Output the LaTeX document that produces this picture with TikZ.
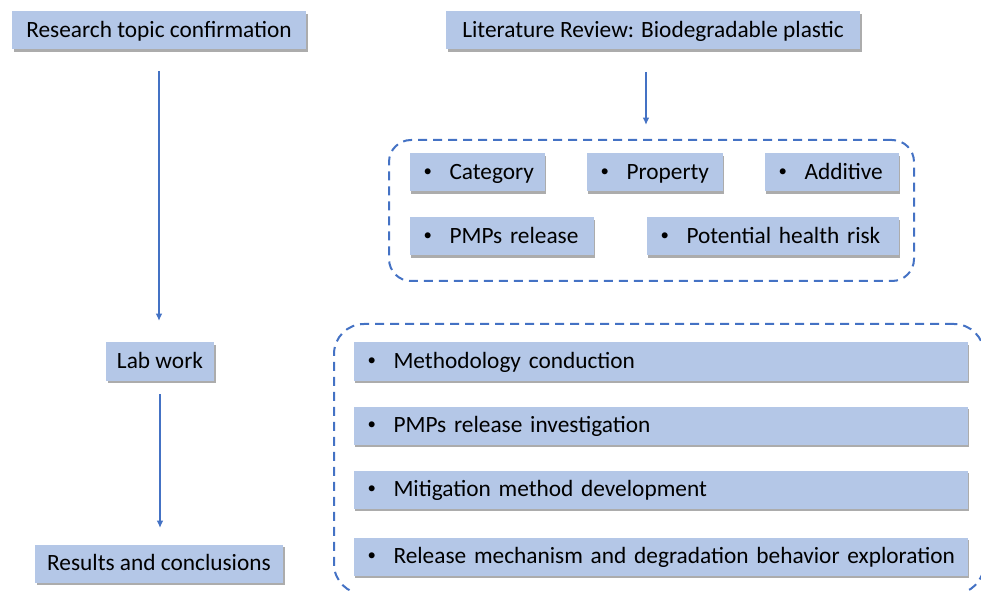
\documentclass[tikz,border=0pt]{standalone}
\usepackage{fontspec}
\setmainfont{Carlito}
\usetikzlibrary{shadows,arrows.meta}
\definecolor{boxfill}{RGB}{180,199,231}
\definecolor{lineblue}{RGB}{68,114,196}
\tikzset{every picture/.style={line width=0.75pt}}
\tikzset{
stagebox/.style={fill=boxfill, draw=none, minimum height=28.5pt, inner xsep=8pt,
  text height=13.5pt, text depth=3pt,
  font=\fontsize{17.5}{21}\selectfont,
  drop shadow={shadow xshift=1.2pt, shadow yshift=-1.8pt, opacity=0.5, fill=black!65}},
itembox/.style={stagebox, anchor=north west, align=left, text width=#1, inner xsep=10.5pt},
groupframe/.style={draw=lineblue, line width=1.5pt, dash pattern=on 6.75pt off 4.5pt,
  rounded corners=#1, anchor=north west, inner sep=0pt, text height=, text depth=},
flow/.style={draw=lineblue, line width=1.5pt, -{Latex[length=5.5pt,width=5pt]}}
}
\newcommand{\itm}[1]{\mbox{\makebox[19.5pt][l]{\raisebox{0.14em}{\scalebox{0.72}{\textbullet}}}#1}}

\begin{document}
\begin{tikzpicture}[x=0.75pt,y=0.75pt,yscale=-1,xscale=1]
\useasboundingbox (0,0) rectangle (981,591);
\clip (0,0) rectangle (981,591);

% Left column
\node[stagebox, minimum width=220.5pt] (research) at (159,30.5) {Research topic confirmation};
\node[stagebox, minimum width=81pt] (labwork) at (160,361.5) {Lab work};
\node[stagebox, minimum width=186pt] (results) at (159,563.5) {Results and conclusions};

% Literature review
\node[stagebox, minimum width=310.5pt] (litrev) at (653,30.5) {Literature Review: Biodegradable plastic};
\node[groupframe=16.5pt, minimum width=393.75pt, minimum height=105.75pt] (litgroup) at (388,139) {};
\node[itembox=80.25pt] (category) at (409,153) {\itm{Category}};
\node[itembox=81pt] (property) at (586,153) {\itm{Property}};
\node[itembox=79.5pt] (additive) at (764,153) {\itm{Additive}};
\node[itembox=117pt] (release) at (409,217) {\itm{PMPs release}};
\node[itembox=168pt] (healthrisk) at (646,217) {\itm{Potential health risk}};

% Lab work items
\node[groupframe=22.5pt, minimum width=487.5pt, minimum height=202.5pt] (labgroup) at (333,323) {};
\node[itembox=439.5pt] (method) at (353,342) {\itm{Methodology conduction}};
\node[itembox=439.5pt] (investig) at (353,406) {\itm{PMPs release investigation}};
\node[itembox=439.5pt] (mitig) at (353,470) {\itm{Mitigation method development}};
\node[itembox=439.5pt] (mechan) at (353,537) {\itm{Release mechanism and degradation behavior exploration}};

% Arrows
\draw[flow, shorten <=15.75pt, shorten >=15.75pt] (research.south) -- (research.south |- labwork.north);
\draw[flow, shorten <=9.75pt, shorten >=12pt] (labwork.south) -- (labwork.south |- results.north);
\draw[flow, shorten <=16.5pt, shorten >=10.5pt] ([xshift=-5.25pt]litrev.south) -- ([xshift=-5.25pt]litrev.south |- litgroup.north);

\end{tikzpicture}
\end{document}
